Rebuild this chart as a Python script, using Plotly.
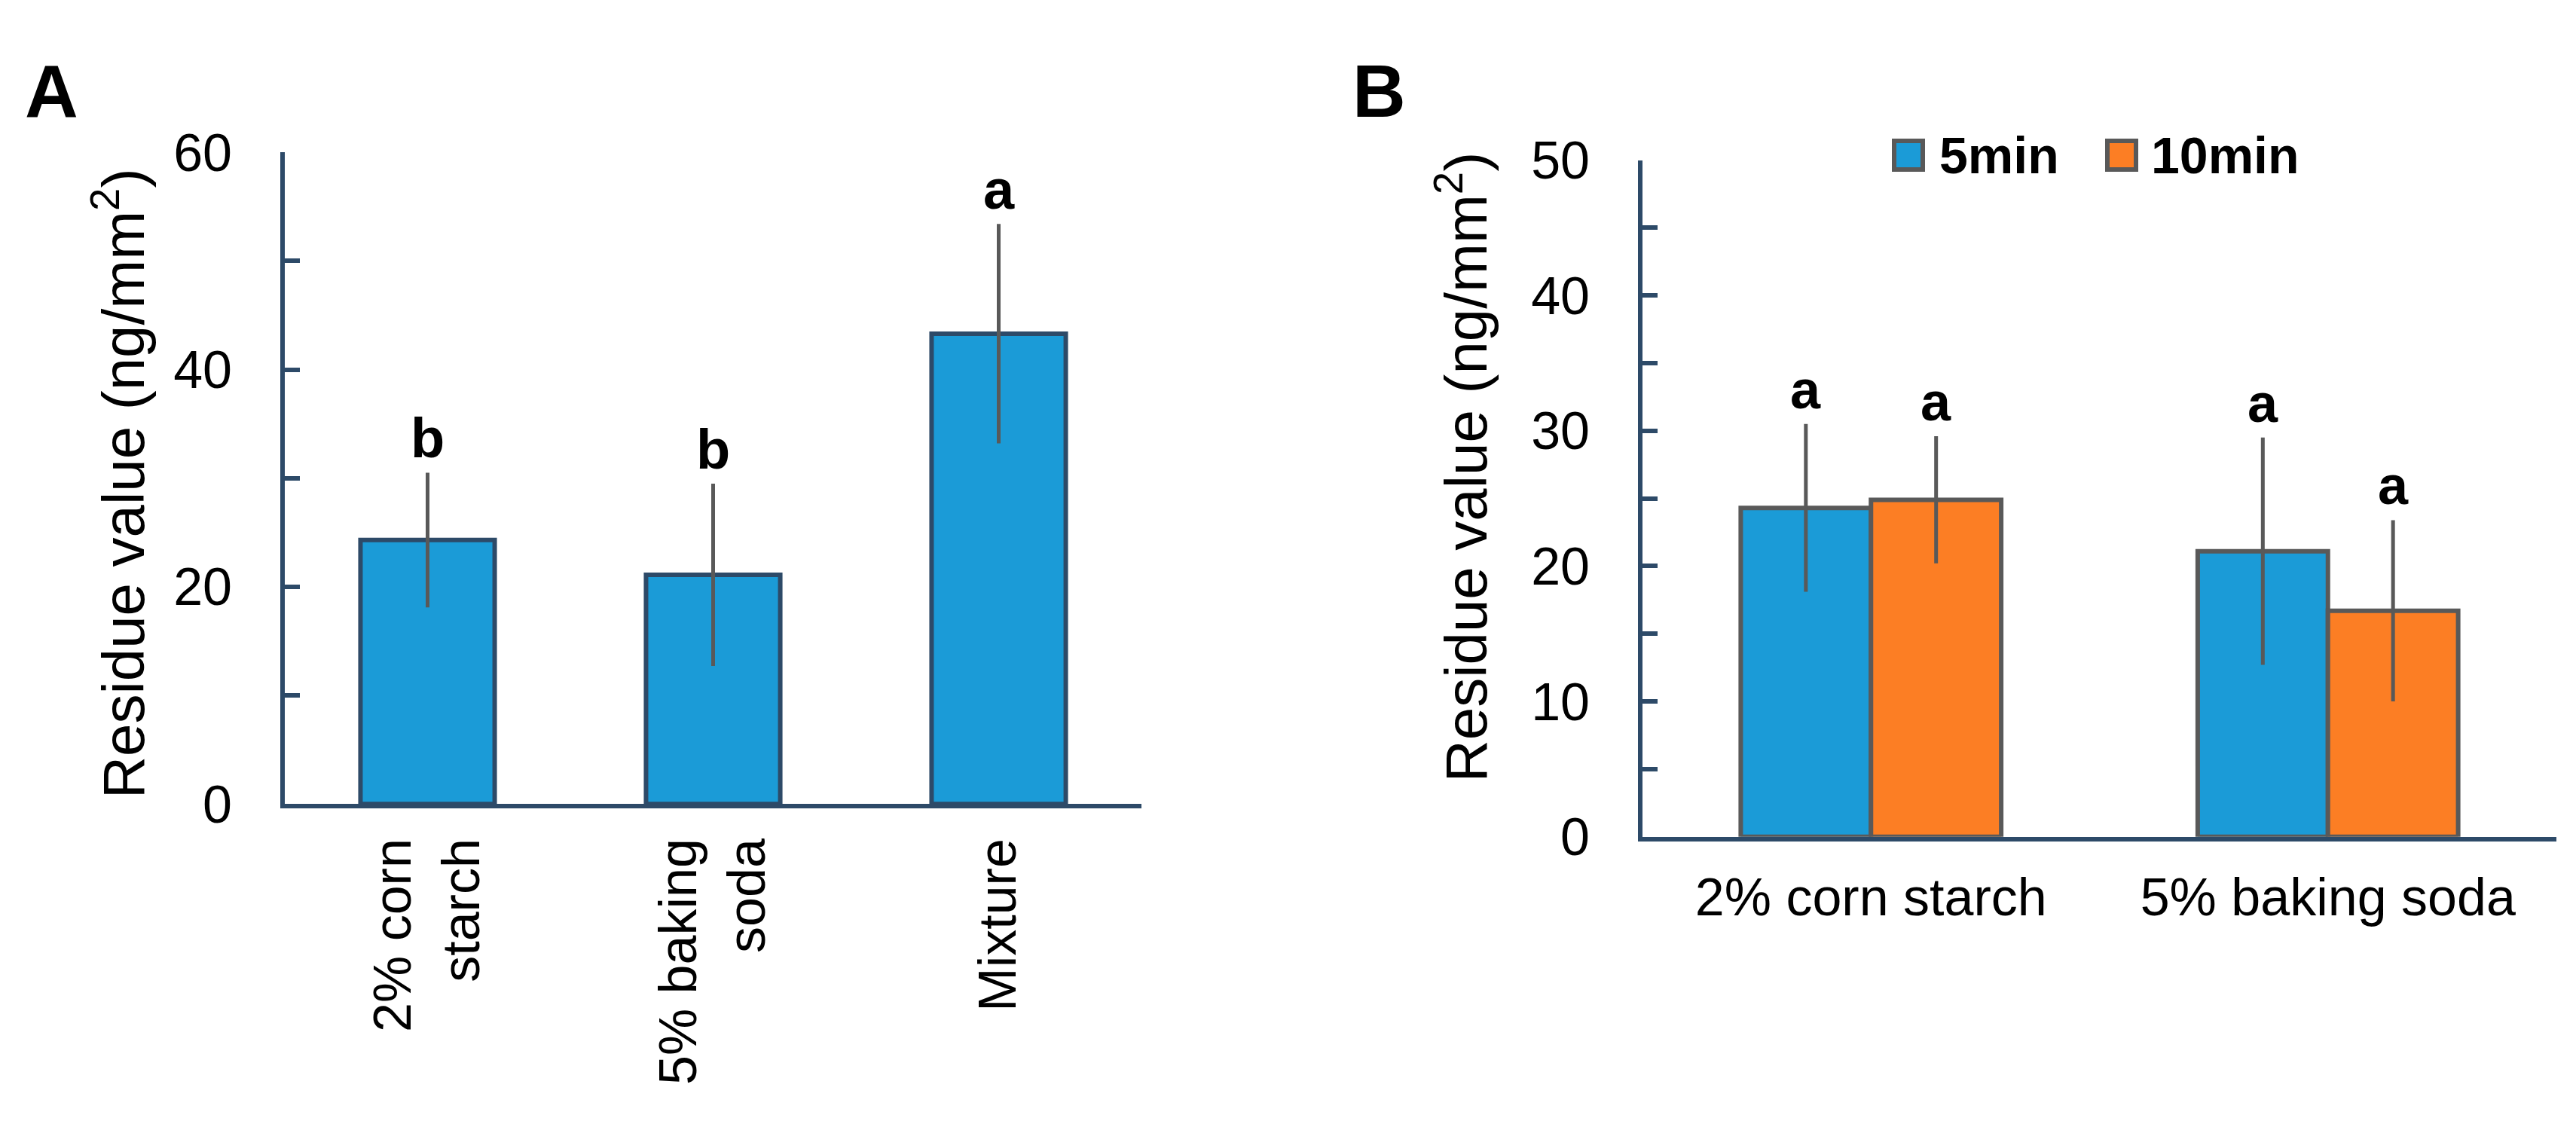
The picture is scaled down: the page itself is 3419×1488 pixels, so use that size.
import plotly.graph_objects as go

# Panel A: residue after one treatment
a_categories = ["2% corn<br>starch", "5% baking<br>soda", "Mixture"]
a_values = [24.3, 21.1, 43.3]
a_errors = [6.2, 8.4, 10.1]
a_letters = ["b", "b", "a"]

# Panel B: residue after 5 and 10 minutes
b_categories = ["2% corn starch", "5% baking soda"]
b_series = ["5min", "10min"]
b_values_5 = [24.3, 21.1]
b_errors_5 = [6.2, 8.4]
b_values_10 = [24.9, 16.7]
b_errors_10 = [4.7, 6.7]
b_letters_5 = ["a", "a"]
b_letters_10 = ["a", "a"]

BLUE = "#1B9BD7"
ORANGE = "#FC7E24"
AXIS = "#2D4A68"
GREY = "#595959"
FONT = "Liberation Sans, Arial, sans-serif"

# page is 3419x1488, body has an 8px default margin
W, H, OFF = 3403, 1472, 8


def fx(px):
    return (px - OFF) / W


def fy(py):
    return 1 - (py - OFF) / H


BAR_W_B = 0.285

fig = go.Figure()

fig.add_trace(go.Bar(
    x=a_categories, y=a_values, width=0.47,
    error_y=dict(type="data", array=a_errors, color=GREY, thickness=5, width=0),
    marker=dict(color=BLUE, line=dict(color=AXIS, width=6)),
    xaxis="x", yaxis="y", showlegend=False,
))

fig.add_trace(go.Bar(
    name=b_series[0], x=b_categories, y=b_values_5,
    width=BAR_W_B, offset=-BAR_W_B,
    error_y=dict(type="data", array=b_errors_5, color=GREY, thickness=5, width=0),
    marker=dict(color=BLUE, line=dict(color=GREY, width=6)),
    xaxis="x2", yaxis="y2", showlegend=False,
))
fig.add_trace(go.Bar(
    name=b_series[1], x=b_categories, y=b_values_10,
    width=BAR_W_B, offset=0,
    error_y=dict(type="data", array=b_errors_10, color=GREY, thickness=5, width=0),
    marker=dict(color=ORANGE, line=dict(color=GREY, width=6)),
    xaxis="x2", yaxis="y2", showlegend=False,
))

annotations = []

# significance letters
for i, (v, e, t) in enumerate(zip(a_values, a_errors, a_letters)):
    annotations.append(dict(x=i, y=v + e, xref="x", yref="y", text="<b>%s</b>" % t,
                            showarrow=False, yanchor="bottom", yshift=2,
                            font=dict(size=74, color="black", family=FONT)))
for i in range(len(b_categories)):
    annotations.append(dict(x=i - BAR_W_B / 2, y=b_values_5[i] + b_errors_5[i], xref="x2", yref="y2",
                            text="<b>%s</b>" % b_letters_5[i], showarrow=False, yanchor="bottom", yshift=4,
                            font=dict(size=72, color="black", family=FONT)))
    annotations.append(dict(x=i + BAR_W_B / 2, y=b_values_10[i] + b_errors_10[i], xref="x2", yref="y2",
                            text="<b>%s</b>" % b_letters_10[i], showarrow=False, yanchor="bottom", yshift=4,
                            font=dict(size=72, color="black", family=FONT)))

# panel letters
annotations.append(dict(x=fx(31), y=fy(86), xref="paper", yref="paper", text="<b>A</b>",
                        showarrow=False, xanchor="left", yanchor="middle",
                        font=dict(size=98, color="black", family=FONT)))
annotations.append(dict(x=fx(1793), y=fy(86), xref="paper", yref="paper", text="<b>B</b>",
                        showarrow=False, xanchor="left", yanchor="middle",
                        font=dict(size=98, color="black", family=FONT)))

# y titles
ytitle = "Residue value (ng/mm<sup>2</sup>)"
annotations.append(dict(x=fx(158), y=fy(637), xref="paper", yref="paper", text=ytitle,
                        textangle=-90, showarrow=False, xanchor="center", yanchor="middle",
                        font=dict(size=78, color="black", family=FONT)))
annotations.append(dict(x=fx(1941), y=fy(614), xref="paper", yref="paper", text=ytitle,
                        textangle=-90, showarrow=False, xanchor="center", yanchor="middle",
                        font=dict(size=78, color="black", family=FONT)))

# legend for panel B, drawn by hand so the swatches can be large
shapes = []
legend_items = [(b_series[0], BLUE, 2514, 2572), (b_series[1], ORANGE, 2797, 2853)]
for name, col, bx, tx in legend_items:
    shapes.append(dict(type="rect", xref="paper", yref="paper",
                       x0=fx(bx), x1=fx(bx + 38), y0=fy(196), y1=fy(156),
                       fillcolor=col, line=dict(color=GREY, width=6)))
    annotations.append(dict(x=fx(tx), y=fy(176), xref="paper", yref="paper", text="<b>%s</b>" % name,
                            showarrow=False, xanchor="left", yanchor="middle",
                            font=dict(size=68, color="black", family=FONT)))

yaxis_common = dict(
    showline=True, linecolor=AXIS, linewidth=6, showgrid=False, zeroline=False,
    ticks="inside", ticklen=20, tickwidth=6, tickcolor=AXIS,
    tickfont=dict(size=70, color="black", family=FONT),
    ticklabelstandoff=50,
)
xaxis_common = dict(
    showline=True, linecolor=AXIS, linewidth=6, showgrid=False, zeroline=False,
    ticks="", tickfont=dict(size=70, color="black", family=FONT),
)

fig.update_layout(
    width=W, height=H,
    margin=dict(l=0, r=0, t=0, b=0),
    paper_bgcolor="white", plot_bgcolor="white",
    barmode="overlay",
    showlegend=False,
    xaxis=dict(xaxis_common, domain=[fx(378), fx(1515)], anchor="y",
               tickangle=-90, ticklabelstandoff=12),
    yaxis=dict(yaxis_common, domain=[fy(1086), fy(172)], anchor="x",
               range=[0, 60], dtick=20, tick0=0,
               minor=dict(dtick=10, ticks="inside", ticklen=20, tickwidth=6, tickcolor=AXIS)),
    xaxis2=dict(xaxis_common, domain=[fx(2180), fx(3393)], anchor="y2",
                ticklabelstandoff=14),
    yaxis2=dict(yaxis_common, domain=[fy(1132), fy(183)], anchor="x2",
                range=[0, 50], dtick=10, tick0=0,
                minor=dict(dtick=5, ticks="inside", ticklen=20, tickwidth=6, tickcolor=AXIS)),
    annotations=annotations,
    shapes=shapes,
)

fig.write_html("out.html")
